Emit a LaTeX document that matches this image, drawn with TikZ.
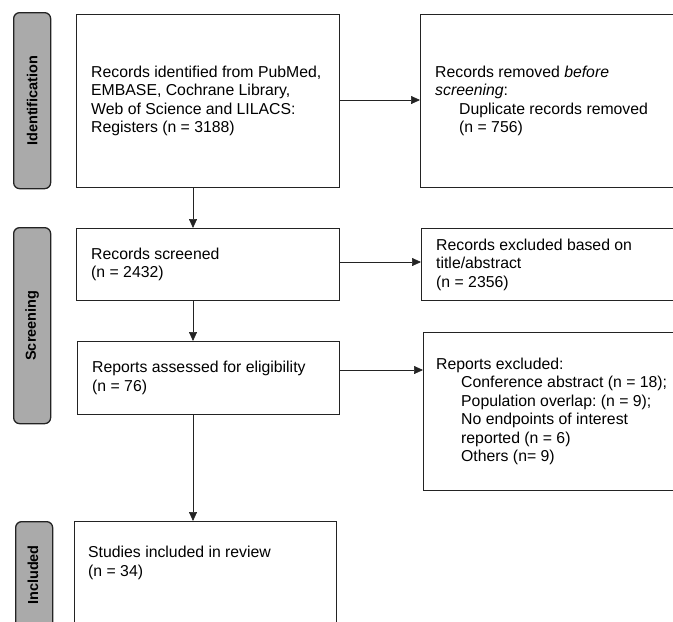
\documentclass[tikz,border=0pt]{standalone}
\usepackage{fontspec}
\setmainfont{Liberation Sans}
\usetikzlibrary{arrows.meta}
\definecolor{barfill}{RGB}{170,170,170}
\definecolor{edge}{RGB}{35,35,35}
\frenchspacing
\begin{document}
\begin{tikzpicture}[x=1pt,y=-1pt,
  box/.style={draw=edge, line width=1.3pt, rectangle, inner sep=0pt, anchor=north west},
  bar/.style={draw=edge, fill=barfill, line width=1.3pt, rounded corners=6pt,
    anchor=north west, minimum width=37pt, inner sep=0pt},
  barlabel/.style={rotate=90, font=\fontsize{14.5}{17}\selectfont\bfseries, inner sep=0pt},
  arr/.style={line width=0.7pt, draw=edge, -{Triangle[length=9pt,width=8pt]}},
  txt/.style={anchor=west, align=left, inner sep=0pt, font=\fontsize{15.8}{18.5}\selectfont}
]
\useasboundingbox (0,0) rectangle (673,622);
\clip (0,0) rectangle (673,622);

% phase bars
\node[bar, minimum height=176pt] (idbar) at (13,12) {};
\node[barlabel] (idlab) at (idbar.center) {Identification};
\node[bar, minimum height=196pt] (scrbar) at (13,227) {};
\node[barlabel] (scrlab) at (scrbar.center) {Screening};
\node[bar, minimum height=130pt] (incbar) at (15,521) {};
\node[barlabel] (inclab) at (33,575) {Included};

% left column
\node[box, minimum width=263pt, minimum height=173pt] (B1) at (76,14) {};
\node[txt] (B1t) at ([xshift=15pt]B1.west)
  {Records identified from PubMed,\\EMBASE, Cochrane Library,\\Web of Science and LILACS:\\Registers (n = 3188)};
\node[box, minimum width=263pt, minimum height=72pt] (B2) at (76,228) {};
\node[txt] (B2t) at ([xshift=15pt]B2.west) {Records screened\\(n = 2432)};
\node[box, minimum width=262pt, minimum height=73pt] (B3) at (77,341) {};
\node[txt] (B3t) at ([xshift=15pt]B3.west) {Reports assessed for eligibility\\(n = 76)};
\node[box, minimum width=262pt, minimum height=130pt] (B4) at (74,521) {};
\node[txt] (B4t) at (88,563) {Studies included in review\\(n = 34)};

% right column
\node[box, minimum width=270pt, minimum height=173pt] (R1) at (420,14) {};
\node[txt] (R1t) at ([xshift=15pt]R1.west)
  {Records removed \textit{before}\\\textit{screening}:\\\hspace*{24pt}Duplicate records removed\\\hspace*{24pt}(n = 756)};
\node[box, minimum width=270pt, minimum height=72pt] (R2) at (421,228) {};
\node[txt] (R2t) at ([xshift=15pt]R2.west)
  {Records excluded based on\\title/abstract\\(n = 2356)};
\node[box, minimum width=270pt, minimum height=158pt] (R3) at (423,332) {};
\node[txt] (R3t) at ([xshift=13pt]R3.west)
  {Reports excluded:\\\hspace*{25pt}Conference abstract (n = 18);\\\hspace*{25pt}Population overlap: (n = 9);\\\hspace*{25pt}No endpoints of interest\\\hspace*{25pt}reported (n = 6)\\\hspace*{25pt}Others (n= 9)};

% connectors
\coordinate (ax) at (193,0);
\draw[arr] (B1.south -| ax) -- (B2.north -| ax);
\draw[arr] (B2.south -| ax) -- (B3.north -| ax);
\draw[arr] (B3.south -| ax) -- (B4.north -| ax);
\coordinate (h1) at (0,100);
\coordinate (h2) at (0,262);
\coordinate (h3) at (0,370);
\draw[arr] (B1.east |- h1) -- (R1.west |- h1);
\draw[arr] (B2.east |- h2) -- (R2.west |- h2);
\draw[arr] (B3.east |- h3) -- (R3.west |- h3);
\end{tikzpicture}
\end{document}
